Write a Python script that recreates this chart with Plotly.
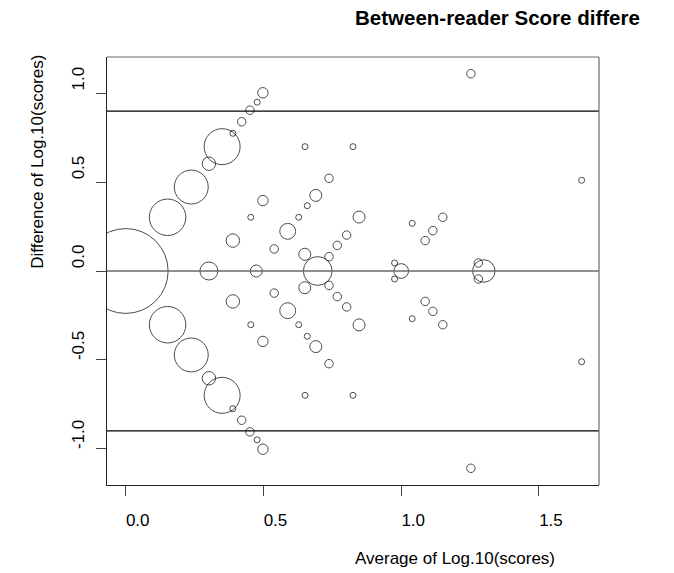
import plotly.graph_objects as go

# ---- data ----
# points on the zero line
zero_x = [0.000, 0.302, 0.474, 0.697, 1.000, 1.300]
zero_y = [0.0, 0.0, 0.0, 0.0, 0.0, 0.0]
zero_n = [200, 9, 4, 23, 6, 14]

# points above zero
up_x = [0.152, 0.238, 0.302, 0.350, 0.389, 0.421, 0.451, 0.477, 0.498,
        0.498, 0.454, 0.389, 0.588, 0.539, 0.651, 0.825, 0.738, 0.690,
        0.659, 0.628, 0.847, 0.802, 0.768, 0.738, 0.650, 1.040, 1.115,
        1.151, 1.087, 0.976, 1.280, 1.253, 1.655]
up_y = [0.302, 0.472, 0.603, 0.699, 0.774, 0.839, 0.904, 0.949, 1.002,
        0.396, 0.302, 0.171, 0.223, 0.124, 0.699, 0.699, 0.521, 0.425,
        0.367, 0.302, 0.303, 0.202, 0.144, 0.081, 0.094, 0.268, 0.227,
        0.302, 0.171, 0.045, 0.045, 1.109, 0.510]
up_n = [37, 32, 5, 36, 1, 2, 2, 1, 3,
        3, 1, 5, 7, 2, 1, 1, 2, 4,
        1, 1, 4, 2, 2, 2, 4, 1, 2,
        2, 2, 1, 2, 2, 1]

# points below zero
lo_x = [0.152, 0.238, 0.302, 0.350, 0.389, 0.421, 0.451, 0.477, 0.498,
        0.498, 0.454, 0.389, 0.588, 0.539, 0.651, 0.825, 0.738, 0.690,
        0.659, 0.628, 0.847, 0.802, 0.768, 0.738, 0.650, 1.040, 1.115,
        1.151, 1.087, 0.976, 1.280, 1.253, 1.655]
lo_y = [-0.302, -0.472, -0.603, -0.699, -0.774, -0.839, -0.904, -0.949, -1.002,
        -0.396, -0.302, -0.171, -0.223, -0.124, -0.699, -0.699, -0.521, -0.425,
        -0.367, -0.302, -0.303, -0.202, -0.144, -0.081, -0.094, -0.268, -0.227,
        -0.302, -0.171, -0.045, -0.045, -1.109, -0.510]
lo_n = [37, 32, 5, 36, 1, 2, 2, 1, 3,
        3, 1, 5, 7, 2, 1, 1, 2, 4,
        1, 1, 4, 2, 2, 2, 4, 1, 2,
        2, 2, 1, 2, 2, 1]

mean_line = 0.0
limit_lines = [-0.899, 0.899]

x_ticks = [0.0, 0.5, 1.0, 1.5]
x_tick_text = ["0.0", "0.5", "1.0", "1.5"]
y_ticks = [-1.0, -0.5, 0.0, 0.5, 1.0]
y_tick_text = ["-1.0", "-0.5", "0.0", "0.5", "1.0"]

title_text = "Between-reader Score differe"
x_title = "Average of Log.10(scores)"
y_title = "Difference of Log.10(scores)"

FONT = "Liberation Sans, Arial, sans-serif"

fig = go.Figure()
for xs, ys, ns in [(zero_x, zero_y, zero_n), (up_x, up_y, up_n), (lo_x, lo_y, lo_n)]:
    fig.add_trace(go.Scatter(
        x=xs, y=ys, mode="markers",
        marker=dict(size=ns, sizemode="area", sizeref=1 / 18.0,
                    color="rgba(0,0,0,0)", symbol="circle",
                    line=dict(color="black", width=1)),
        hoverinfo="skip", showlegend=False, cliponaxis=True,
    ))

shapes = []
shapes.append(dict(type="line", xref="paper", x0=0, x1=1, yref="y",
                   y0=mean_line, y1=mean_line, line=dict(color="#6a6a6a", width=1.4)))
for v in limit_lines:
    shapes.append(dict(type="line", xref="paper", x0=0, x1=1, yref="y",
                       y0=v, y1=v, line=dict(color="black", width=1.1)))
# top and right border of the box
shapes.append(dict(type="line", xref="paper", yref="paper", x0=0, x1=1, y0=1, y1=1,
                   line=dict(color="#6a6a6a", width=1.2)))
shapes.append(dict(type="line", xref="paper", yref="paper", x0=1, x1=1, y0=0, y1=1,
                   line=dict(color="#6a6a6a", width=1.2)))

annotations = [
    dict(text=f"<b>{title_text}</b>", xref="paper", yref="paper", x=0.5, y=1.092,
         xanchor="left", yanchor="middle", showarrow=False,
         font=dict(family=FONT, size=20.5, color="black")),
    dict(text=x_title, xref="paper", yref="paper", x=0.5, y=-0.172,
         xanchor="left", yanchor="middle", showarrow=False,
         font=dict(family=FONT, size=17, color="black")),
    dict(text=y_title, xref="paper", yref="paper", x=-0.1427, y=0.5,
         xanchor="center", yanchor="bottom", textangle=-90, showarrow=False,
         font=dict(family=FONT, size=17, color="black")),
]

fig.update_layout(
    width=674, height=573,
    margin=dict(l=107, r=75, t=57, b=88, pad=0),
    paper_bgcolor="white", plot_bgcolor="white",
    shapes=shapes, annotations=annotations,
    xaxis=dict(range=[-0.0679, 1.718], tickvals=x_ticks, ticktext=x_tick_text,
               ticks="outside", ticklen=10, tickwidth=1, tickcolor="#444",
               showgrid=False, zeroline=False, showline=True, linecolor="#222",
               linewidth=1, ticklabelshift=12, ticklabelstandoff=10,
               tickfont=dict(family=FONT, size=17, color="black")),
    yaxis=dict(range=[-1.203, 1.203], tickvals=y_ticks, ticktext=y_tick_text,
               ticks="outside", ticklen=10, tickwidth=1, tickcolor="#444",
               showgrid=False, zeroline=False, showline=True, linecolor="#222",
               linewidth=1, tickangle=-90, ticklabelshift=-12, ticklabelstandoff=5,
               tickfont=dict(family=FONT, size=17, color="black")),
)

fig.write_html("out.html")
